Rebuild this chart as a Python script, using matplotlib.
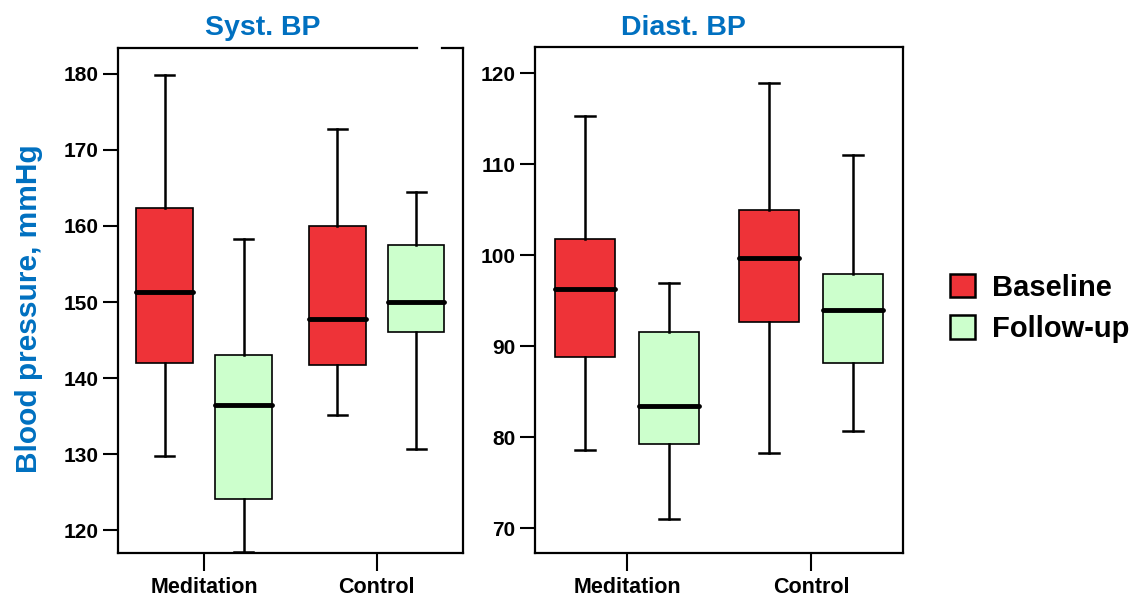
import matplotlib
matplotlib.use("Agg")
import matplotlib.pyplot as plt
from matplotlib.patches import Patch

plt.rcParams['font.family'] = ['Liberation Sans', 'DejaVu Sans']
plt.rcParams['font.weight'] = 'bold'

groups = ['Meditation', 'Control']
series = ['Baseline', 'Follow-up']
colors = ['#EE3338', '#CCFFCC']
titles = ['Syst. BP', 'Diast. BP']

# box stats per panel: [whislo, q1, med, q3, whishi] for (group, series)
syst = {
    ('Meditation', 'Baseline'):  [129.7, 142.0, 151.3, 162.4, 179.8],
    ('Meditation', 'Follow-up'): [117.1, 124.1, 136.4, 143.0, 158.3],
    ('Control', 'Baseline'):     [135.2, 141.7, 147.8, 160.0, 172.7],
    ('Control', 'Follow-up'):    [130.7, 146.0, 150.0, 157.5, 164.5],
}
diast = {
    ('Meditation', 'Baseline'):  [78.6, 88.8, 96.3, 101.8, 115.3],
    ('Meditation', 'Follow-up'): [71.0, 79.3, 83.5, 91.6, 97.0],
    ('Control', 'Baseline'):     [78.3, 92.7, 99.7, 105.0, 119.0],
    ('Control', 'Follow-up'):    [80.7, 88.2, 94.0, 98.0, 111.0],
}
panels = [syst, diast]
yticks = [[120, 130, 140, 150, 160, 170, 180], [70, 80, 90, 100, 110, 120]]
ylims = [(117.0, 183.4), (67.3, 122.9)]
title_x = [0.42, 0.402]

title_color = '#0070C0'

fig = plt.figure(figsize=(11.33, 5.99), dpi=100)
ax1 = fig.add_axes([0.1041, 0.0768, 0.3045, 0.8431])
ax2 = fig.add_axes([0.4722, 0.0768, 0.3248, 0.8447])
axes = [ax1, ax2]

offsets = [-0.228, 0.228]
for ax, data, yt, yl, title, tx in zip(axes, panels, yticks, ylims, titles, title_x):
    for si, s in enumerate(series):
        stats = []
        pos = []
        for gi, g in enumerate(groups):
            lo, q1, med, q3, hi = data[(g, s)]
            stats.append(dict(whislo=lo, q1=q1, med=med, q3=q3, whishi=hi, fliers=[]))
            pos.append(gi + 1 + offsets[si])
        ax.bxp(stats, positions=pos, widths=0.33, capwidths=0.11,
               showfliers=False, patch_artist=True,
               boxprops=dict(facecolor=colors[si], edgecolor='black', linewidth=1.2),
               medianprops=dict(color='black', linewidth=3.5, solid_capstyle='round'),
               whiskerprops=dict(color='black', linewidth=1.8),
               capprops=dict(color='black', linewidth=1.8))
    ax.set_xlim(0.5, 2.5)
    ax.set_ylim(*yl)
    ax.set_xticks([1, 2])
    ax.set_xticklabels(groups, fontsize=15.5, fontweight='bold')
    ax.set_yticks(yt)
    ax.set_yticklabels([str(v) for v in yt], fontsize=15, fontweight='bold')
    ax.tick_params(axis='y', direction='out', length=11, width=1.5, pad=3)
    ax.tick_params(axis='x', direction='out', length=13, width=1.5, pad=4)
    for sp in ax.spines.values():
        sp.set_linewidth(1.6)
    ax.set_title(title, fontsize=20.5, fontweight='bold', color=title_color, pad=9, x=tx)

# left panel top border has a small gap near the right corner
ax1.spines['top'].set_visible(False)
ax1.plot([0, 0.867], [1, 1], transform=ax1.transAxes, color='black', lw=1.6, clip_on=False)
ax1.plot([0.939, 1], [1, 1], transform=ax1.transAxes, color='black', lw=1.6, clip_on=False)

ax1.set_ylabel('Blood pressure, mmHg', fontsize=21.5, fontweight='bold', color=title_color)
ax1.yaxis.set_label_coords(-0.218, 0.483)

handles = [Patch(facecolor=c, edgecolor='black', linewidth=1.8, label=s) for c, s in zip(colors, series)]
fig.legend(handles=handles, loc='center left', bbox_to_anchor=(0.8385, 0.485), frameon=False,
           prop=dict(size=21, weight='bold'), handlelength=0.85, handleheight=0.85,
           handletextpad=0.58, labelspacing=0.45, borderpad=0, borderaxespad=0)

fig.savefig('out.png', dpi=100)
